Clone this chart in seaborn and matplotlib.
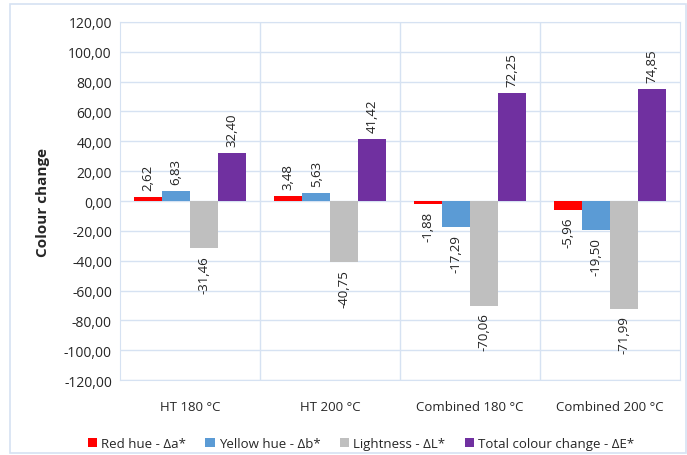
import matplotlib
matplotlib.use("Agg")
import matplotlib.pyplot as plt
import matplotlib.patches as mpatches
import pandas as pd
import seaborn as sns

categories = ["HT 180 °C", "HT 200 °C", "Combined 180 °C", "Combined 200 °C"]
series = ["Red hue - Δa*", "Yellow hue - Δb*", "Lightness - ΔL*", "Total colour change - ΔE*"]
red_hue = [2.62, 3.48, -1.88, -5.96]
yellow_hue = [6.83, 5.63, -17.29, -19.50]
lightness = [-31.46, -40.75, -70.06, -71.99]
total_change = [32.40, 41.42, 72.25, 74.85]
colors = ["#FF0000", "#5B9BD5", "#BFBFBF", "#7030A0"]

rows = []
for name, vals in zip(series, [red_hue, yellow_hue, lightness, total_change]):
    for cat, v in zip(categories, vals):
        rows.append({"cat": cat, "serie": name, "valor": v})
df = pd.DataFrame(rows)

sns.set_style("white")
plt.rcParams["font.family"] = ["Open Sans", "DejaVu Sans"]

fig = plt.figure(figsize=(6.87, 4.56), dpi=100)
ax = fig.add_axes([0.175, 0.164, 0.815, 0.786])

sns.barplot(data=df, x="cat", y="valor", hue="serie", palette=colors,
            order=categories, hue_order=series, width=0.8, saturation=1, ax=ax,
            edgecolor="none", legend=True)

for cont in ax.containers:
    ax.bar_label(cont, labels=[f"{v:.2f}".replace(".", ",") for v in cont.datavalues],
                 rotation=90, padding=5, fontsize=9.5, color="#222222")

ax.set_ylim(-120, 120)
ax.set_yticks(range(-120, 121, 20))
ax.set_yticklabels([f"{v},00" for v in range(-120, 121, 20)], fontsize=10)
ax.set_xlim(-0.5, 3.5)
ax.tick_params(axis="x", labelsize=9.5, length=0, pad=14)
ax.tick_params(axis="y", length=0, pad=6)

grid_col = "#D6E2F2"
for y in range(-120, 121, 20):
    ax.axhline(y, color=grid_col, lw=1, zorder=0)
for x in [0.5, 1.5, 2.5]:
    ax.axvline(x, color=grid_col, lw=1, zorder=0)
for s in ax.spines.values():
    s.set_color(grid_col)
ax.set_axisbelow(True)

ax.set_xlabel("")
ax.set_ylabel("Colour change", fontsize=11, fontweight="bold", labelpad=10)

ax.legend(loc="upper center", bbox_to_anchor=(0.43, -0.125), ncol=4, frameon=False,
          fontsize=9.5, handlelength=0.7, handleheight=0.7, handletextpad=0.3,
          columnspacing=1.5)

fig.patches.append(mpatches.Rectangle((0.014, 0.005), 0.985, 0.985, transform=fig.transFigure,
                                      fill=False, edgecolor=grid_col, lw=1.2))

fig.savefig("out.png", dpi=100)
